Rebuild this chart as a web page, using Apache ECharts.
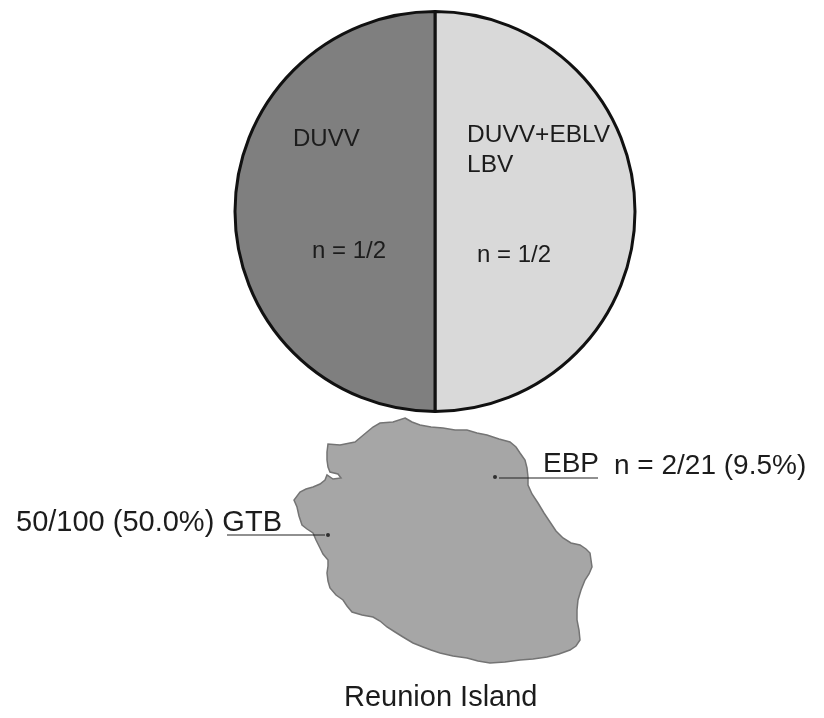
<!DOCTYPE html>
<html><head><meta charset="utf-8">
<style>html,body{margin:0;background:#fff}#c{width:824px;height:718px}#c canvas{filter:blur(.45px)}</style>
<script src="https://cdn.jsdelivr.net/npm/echarts@6/dist/echarts.min.js"></script></head>
<body><div id="c"></div>
<script>
const pieNames = ['DUVV+EBLV LBV', 'DUVV'];
const pieValues = [1, 1];
const islandOutline = [[405,418],[412,422],[420,425],[431,427],[443,428],[455,430],[467,430],[477,433],[487,435],[499,439],[510,442],[516,447],[520,453],[525,460],[527,468],[528,477],[528,485],[532,494],[538,503],[544,513],[550,522],[556,531],[563,538],[571,543],[580,545],[586,549],[590,553],[591,560],[592,567],[589,574],[585,580],[581,590],[578,600],[577,610],[577,620],[579,630],[580,640],[576,646],[570,650],[559,654],[547,657],[533,659],[520,660],[505,662],[490,663],[478,661],[467,658],[453,656],[440,653],[431,650],[423,647],[413,643],[403,637],[395,632],[387,627],[380,621],[373,617],[362,615],[352,612],[347,606],[343,600],[336,595],[330,588],[328,581],[327,573],[328,566],[328,560],[323,554],[320,548],[316,540],[313,533],[307,529],[302,525],[299,516],[297,507],[294,500],[300,492],[306,489],[313,487],[320,484],[325,480],[327,475],[333,479],[341,478],[338,474],[330,472],[328,467],[327,460],[327,452],[328,444],[340,445],[355,442],[361,437],[367,432],[373,427],[380,423],[393,422]];
const siteDots = [[495,477],[328,535]];
const leaderEBP = [[499,478],[598,478]];
const leaderGTB = [[227,535],[325,535]];
const labelTexts = ['DUVV','DUVV+EBLV','LBV','n = 1/2','n = 1/2','EBP','n = 2/21 (9.5%)','50/100 (50.0%) GTB','Reunion Island'];

// layout only
const labelAnchors = [[293,139],[467,135],[467,165],[312,251],[477,255],[543,464],[614,466],[16,523],[344,698]];
const labelSizes = [24,24.5,24.5,24,24,28,28,29,29];
const pieColors = ['#d9d9d9', '#7f7f7f'];

const chart = echarts.init(document.getElementById('c'), null, {renderer:'canvas'});
chart.setOption({
  animation:false,
  backgroundColor:'#fff',
  grid:{left:0,right:0,top:0,bottom:0},
  xAxis:{type:'value',min:0,max:824,show:false},
  yAxis:{type:'value',min:0,max:718,inverse:true,show:false},
  series:[
    {type:'pie',center:[435,211.5],radius:[0,200],startAngle:90,silent:true,
     label:{show:false},labelLine:{show:false},
     itemStyle:{borderColor:'#111',borderWidth:3},
     data:pieNames.map((n,i)=>({name:n,value:pieValues[i],itemStyle:{color:pieColors[i]}}))},
    {type:'custom',silent:true,coordinateSystem:'cartesian2d',z:3,
     data:[0],
     renderItem:(p,api)=>({type:'polygon',
       shape:{points:islandOutline.map(q=>api.coord(q))},
       style:{fill:'#a6a6a6',stroke:'#747474',lineWidth:1.5}})},
    {type:'line',data:leaderEBP,symbol:'none',z:4,silent:true,lineStyle:{color:'#222',width:1.2}},
    {type:'line',data:leaderGTB,symbol:'none',z:4,silent:true,lineStyle:{color:'#222',width:1.2}},
    {type:'scatter',data:siteDots,symbolSize:4,z:5,silent:true,itemStyle:{color:'#111'}},
    {type:'scatter',z:6,silent:true,symbolSize:0,
     data:labelTexts.map((t,i)=>({value:labelAnchors[i],label:{show:true,formatter:t,position:'inside',align:'left',verticalAlign:'middle',
       fontFamily:'Liberation Sans',fontSize:labelSizes[i],color:'#1c1c1c',opacity:1}}))}
  ]
});
</script></body></html>
